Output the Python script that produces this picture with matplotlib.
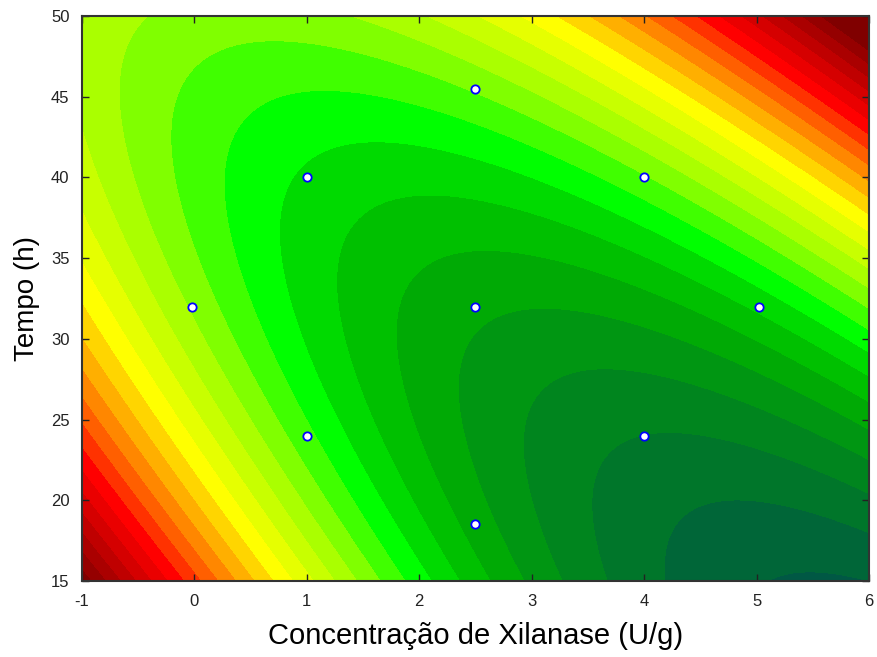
import numpy as np
import matplotlib
matplotlib.use("Agg")
import matplotlib.pyplot as plt
from matplotlib.colors import ListedColormap, BoundaryNorm

plt.rcParams["font.family"] = ["Liberation Sans", "DejaVu Sans"]
plt.rcParams["axes.unicode_minus"] = False

# Experimental design points (central composite design)
xilanase = [-0.02, 1.0, 1.0, 2.5, 2.5, 2.5, 4.0, 4.0, 5.02]
tempo = [32.0, 24.0, 40.0, 18.55, 32.0, 45.45, 24.0, 40.0, 32.0]

# Quadratic response surface, coded units u=(x-2.5)/1.5, v=(y-32)/8
coef_names = ["b0", "b1", "b2", "b11", "b22", "b12"]
coef_values = [5.24, -1.068, 1.364, 1.348, 0.913, 2.08]

x_ticks = [-1, 0, 1, 2, 3, 4, 5, 6]
y_ticks = [15, 20, 25, 30, 35, 40, 45, 50]
contour_levels = [-100] + list(range(1, 27)) + [100]

band_colors = [
    (0, 88, 68), (0, 102, 56), (0, 118, 42), (0, 133, 30), (0, 150, 18),
    (0, 170, 5), (0, 192, 0), (0, 218, 0), (0, 255, 0), (64, 255, 0),
    (128, 255, 0), (170, 255, 0), (200, 255, 0), (230, 255, 0), (255, 255, 0),
    (255, 213, 0), (255, 175, 0), (255, 135, 0), (255, 95, 0), (255, 50, 0),
    (255, 0, 0), (234, 0, 0), (213, 0, 0), (191, 0, 0), (170, 0, 0),
    (149, 0, 0), (128, 0, 0),
]

c = dict(zip(coef_names, coef_values))
gx = np.linspace(-1, 6, 500)
gy = np.linspace(15, 50, 500)
X, Y = np.meshgrid(gx, gy)
U = (X - 2.5) / 1.5
V = (Y - 32) / 8
Z = (c["b0"] + c["b1"] * U + c["b2"] * V + c["b11"] * U ** 2
     + c["b22"] * V ** 2 + c["b12"] * U * V)

cmap = ListedColormap([tuple(val / 255 for val in col) for col in band_colors])
norm = BoundaryNorm(contour_levels, cmap.N)

fig = plt.figure(figsize=(8.78, 6.57), dpi=100)
ax = fig.add_axes([82 / 878, 1 - 581 / 657, 787 / 878, 565 / 657])
ax.contourf(X, Y, Z, levels=contour_levels, cmap=cmap, norm=norm)
ax.plot(xilanase, tempo, linestyle="none", marker="o", markersize=6,
        markerfacecolor="white", markeredgecolor="#0000ff", markeredgewidth=1.3,
        zorder=5)

ax.set_xlim(-1, 6)
ax.set_ylim(15, 50)
ax.set_xticks(x_ticks)
ax.set_yticks(y_ticks)
ax.set_xticklabels([str(t) for t in x_ticks])
ax.set_yticklabels([str(t) for t in y_ticks])
ax.tick_params(direction="in", length=5, width=1, top=True, right=True,
               labelsize=12, colors="#222222", pad=9)
for s in ax.spines.values():
    s.set_linewidth(1.5)
    s.set_color("#333333")

ax.set_xlabel("Concentração de Xilanase (U/g)", fontsize=21, labelpad=10)
ax.set_ylabel("Tempo (h)", fontsize=20, labelpad=8)

fig.savefig("out.png", dpi=100)
